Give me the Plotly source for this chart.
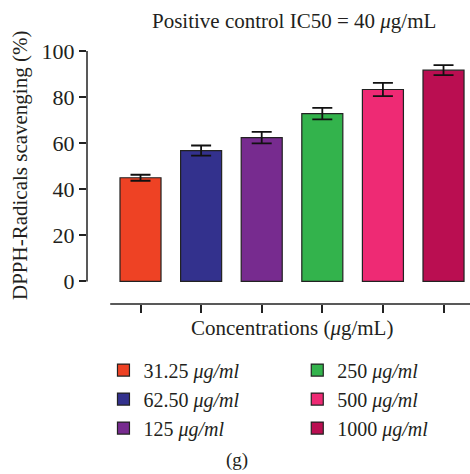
import plotly.graph_objects as go

categories = ["31.25", "62.50", "125", "250", "500", "1000"]
legend_names = ["31.25 <i>μg/ml</i>", "62.50 <i>μg/ml</i>", "125 <i>μg/ml</i>",
                "250 <i>μg/ml</i>", "500 <i>μg/ml</i>", "1000 <i>μg/ml</i>"]
scavenging = [45.0, 56.8, 62.4, 72.8, 83.3, 91.7]
errors = [1.3, 2.2, 2.5, 2.5, 2.9, 2.2]
colors = ["#EE4224", "#33318D", "#772B8F", "#33B34C", "#EE2A74", "#BA0E51"]
y_ticks = [0, 20, 40, 60, 80, 100]

FONT = "Liberation Serif"
TXT = "#231F20"
FS = 21
LFS = 20

fig = go.Figure()
for i, (name, v, e, c) in enumerate(zip(legend_names, scavenging, errors, colors)):
    fig.add_trace(go.Bar(
        x=[i], y=[v], name=name, width=0.677,
        marker=dict(color=c, line=dict(color="#222222", width=1.2)),
        error_y=dict(type="data", array=[e], color="#111111", thickness=1.8, width=10),
        legend="legend" if i < 3 else "legend2",
        showlegend=True,
    ))

fig.update_layout(
    width=470, height=474,
    margin=dict(l=87, r=0, t=50.7, b=169.7),
    paper_bgcolor="white", plot_bgcolor="white",
    font=dict(family=FONT, size=FS, color=TXT),
    showlegend=True,
    xaxis=dict(range=[-0.883, 5.437], tickvals=list(range(6)), showticklabels=False,
               ticks="outside", ticklen=8, tickwidth=1.5, tickcolor="#222222",
               showgrid=False, zeroline=False, showline=False, fixedrange=True),
    yaxis=dict(range=[-9.78, 100], tickvals=y_ticks, ticks="outside", ticklen=7,
               tickwidth=1.5, tickcolor="#222222", showgrid=False, zeroline=False,
               showline=False, tickfont=dict(size=22), ticklabelstandoff=0),
    legend=dict(x=0.043, y=-0.184, xanchor="left", yanchor="top", bgcolor="rgba(0,0,0,0)",
                font=dict(size=LFS), tracegroupgap=0, itemwidth=30),
    legend2=dict(x=0.549, y=-0.184, xanchor="left", yanchor="top", bgcolor="rgba(0,0,0,0)",
                 font=dict(size=LFS), tracegroupgap=0, itemwidth=30),
    shapes=[
        dict(type="line", xref="paper", yref="y", x0=0, x1=0, y0=0, y1=100,
             line=dict(color="#222222", width=1.5)),
        dict(type="line", xref="x", yref="paper", x0=-0.5, x1=5.6, y0=0, y1=0,
             line=dict(color="#222222", width=1.5)),
    ],
    annotations=[
        dict(text="Positive control IC50 = 40 <i>μ</i>g/mL", xref="paper", yref="paper",
             x=(294 - 87) / 383, y=1 + (50.7 - 21) / 253.6, showarrow=False,
             xanchor="center", yanchor="middle", font=dict(size=FS)),
        dict(text="DPPH-Radicals scavenging (%)", xref="paper", yref="paper",
             x=(20 - 87) / 383, y=(304.3 - 166) / 253.6, showarrow=False, textangle=-90,
             xanchor="center", yanchor="middle", font=dict(size=FS)),
        dict(text="Concentrations (<i>μ</i>g/mL)", xref="paper", yref="paper",
             x=(292 - 87) / 383, y=-(328 - 304.3) / 253.6, showarrow=False,
             xanchor="center", yanchor="middle", font=dict(size=FS)),
        dict(text="(g)", xref="paper", yref="paper",
             x=(237 - 87) / 383, y=-(473.5 - 304.3) / 253.6, showarrow=False,
             xanchor="center", yanchor="bottom", font=dict(size=19)),
    ],
)

fig.write_html("out.html")
